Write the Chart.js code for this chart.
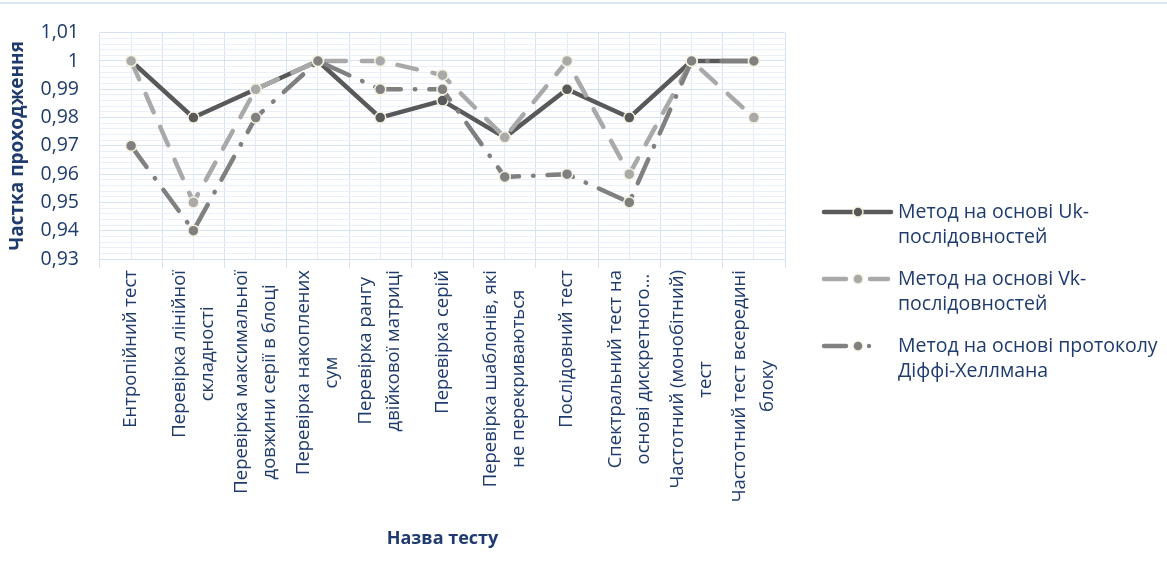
<!DOCTYPE html>
<html>
<head>
<meta charset="utf-8">
<script src="https://cdn.jsdelivr.net/npm/chart.js@4.4.1/dist/chart.umd.min.js"></script>
<style>
  html, body { margin: 0; padding: 0; background: #fff; }
  #wrap { position: relative; width: 1167px; height: 572px; }
  #topline { position: absolute; left: 0; top: 2px; width: 1167px; height: 2px; background: #dbe6f4; }
</style>
</head>
<body>
<div id="wrap">
  <div id="topline"></div>
  <canvas id="chart" width="1167" height="572"></canvas>
</div>
<script>
const testNames = [
  'Ентропійний тест',
  ['Перевірка лінійної', 'складності'],
  ['Перевірка максимальної', 'довжини серії в блоці'],
  ['Перевірка накоплених', 'сум'],
  ['Перевірка рангу', 'двійкової матриці'],
  'Перевірка серій',
  ['Перевірка шаблонів, які', 'не перекриваються'],
  'Послідовний тест',
  ['Спектральний тест на', 'основі дискретного…'],
  ['Частотний (монобітний)', 'тест'],
  ['Частотний тест всередині', 'блоку']
];
const ukValues = [1, 0.98, 0.99, 1, 0.98, 0.986, 0.973, 0.99, 0.98, 1, 1];
const vkValues = [1, 0.95, 0.99, 1, 1, 0.995, 0.973, 1, 0.96, 1, 0.98];
const dhValues = [0.97, 0.94, 0.98, 1, 0.99, 0.99, 0.959, 0.96, 0.95, 1, 1];
const seriesNames = [
  ['Метод на основі Uk-', 'послідовностей'],
  ['Метод на основі Vk-', 'послідовностей'],
  ['Метод на основі протоколу', 'Діффі-Хеллмана']
];
const yMin = 0.93, yMax = 1.01, yMinorStep = 0.002;

const TEXT = '#1F3B6E';
const FONT = 'Open Sans';

function isMajor(v) { return Math.abs(v * 100 - Math.round(v * 100)) < 1e-6; }

function series(label, data, color, dash, order) {
  return {
    label, data, order,
    borderColor: color, backgroundColor: color,
    borderWidth: 4.5, borderDash: dash, borderCapStyle: 'round', borderJoinStyle: 'round',
    pointRadius: 5.5, pointHoverRadius: 5.5,
    pointBackgroundColor: color, pointBorderColor: '#F4F1DE', pointBorderWidth: 1.5,
    tension: 0, fill: false
  };
}

// category labels: vertical, lines of a label centred on each other (like Excel)
const xLabels = {
  id: 'xLabels',
  afterDraw(chart) {
    const ctx = chart.ctx, xs = chart.scales.x;
    ctx.save();
    ctx.font = '18.5px "' + FONT + '"';
    ctx.fillStyle = TEXT;
    ctx.textAlign = 'center';
    ctx.textBaseline = 'middle';
    chart.data.labels.forEach((lab, i) => {
      const lines = Array.isArray(lab) ? lab : [lab];
      const cx = xs.getPixelForTick(i);
      const w = Math.max(...lines.map(l => ctx.measureText(l).width));
      const cy = xs.top + 11 + w / 2;
      lines.forEach((line, k) => {
        ctx.save();
        ctx.translate(cx + (k - (lines.length - 1) / 2) * 28, cy);
        ctx.rotate(-Math.PI / 2);
        ctx.fillText(line, 0, 0);
        ctx.restore();
      });
    });
    ctx.restore();
  }
};

// legend drawn at the right side with wrapped labels
const sideLegend = {
  id: 'sideLegend',
  afterDraw(chart) {
    const ctx = chart.ctx;
    const x0 = 824, x1 = 891, mx = 858, tx = 898;
    const rows = [212, 279, 346];
    ctx.save();
    chart.data.datasets.forEach((ds, i) => {
      const y = rows[i];
      ctx.strokeStyle = ds.borderColor;
      ctx.lineWidth = 4.5;
      ctx.lineCap = 'round';
      ctx.setLineDash([]);
      const dash = ds.borderDash || [];
      ctx.beginPath();
      ctx.moveTo(x0, y); ctx.lineTo(dash.length ? mx - 12 : mx, y);
      if (!dash.length) { ctx.lineTo(x1, y); }
      else if (dash.length === 2) { ctx.moveTo(mx + 12, y); ctx.lineTo(x1 - 3, y); }
      ctx.stroke();
      if (dash.length === 4) {
        ctx.beginPath(); ctx.arc(mx + 11, y, 2.2, 0, Math.PI * 2);
        ctx.fillStyle = ds.borderColor; ctx.fill();
      }
      ctx.beginPath(); ctx.arc(mx, y, 5, 0, Math.PI * 2);
      ctx.fillStyle = ds.pointBackgroundColor; ctx.fill();
      ctx.lineWidth = 1.5; ctx.strokeStyle = ds.pointBorderColor; ctx.stroke();

      ctx.fillStyle = TEXT;
      ctx.font = '19.5px "' + FONT + '"';
      ctx.textBaseline = 'middle';
      ctx.textAlign = 'left';
      seriesNames[i].forEach((line, k) => ctx.fillText(line, tx, y + k * 25));
    });
    ctx.restore();
  }
};

new Chart(document.getElementById('chart'), {
  type: 'line',
  data: {
    labels: testNames,
    datasets: [
      series(seriesNames[0].join(''), ukValues, '#595959', [], 3),
      series(seriesNames[1].join(''), vkValues, '#A9A9A9', [20, 16], 2),
      series(seriesNames[2].join(''), dhValues, '#808080', [26, 14, 0.5, 14], 1)
    ]
  },
  options: {
    responsive: false,
    animation: false,
    layout: { padding: { top: 31, left: 6, right: 382, bottom: 22 } },
    plugins: { legend: { display: false }, tooltip: { enabled: false } },
    scales: {
      x: {
        offset: true,
        grid: { offset: true, color: '#D6E3F3', lineWidth: 1, tickLength: 9 },
        border: { display: false },
        ticks: { display: false },
        title: {
          display: true, text: 'Назва тесту', color: TEXT,
          font: { family: FONT, size: 18, weight: 'bold' }, padding: { top: 4, bottom: 0 }
        },
        afterFit(axis) { axis.height = 291; }
      },
      x2: {
        type: 'category', position: 'bottom', offset: true,
        grid: { offset: false, color: '#E1EAF6', drawTicks: false },
        border: { display: false },
        ticks: { display: false },
        afterFit(axis) { axis.height = 0; }
      },
      y: {
        min: yMin, max: yMax,
        grid: {
          drawTicks: false,
          color: c => isMajor(c.tick.value) ? '#D6E3F3' : '#EAF0F9'
        },
        border: { display: false },
        ticks: {
          stepSize: yMinorStep, autoSkip: false, padding: 21, color: TEXT,
          font: { family: FONT, size: 19.5 },
          callback: v => isMajor(v) ? String(Math.round(v * 100) / 100).replace('.', ',') : ''
        },
        title: {
          display: true, text: 'Частка проходження', color: TEXT,
          font: { family: FONT, size: 19, weight: 'bold' }, padding: { top: 0, bottom: 2 }
        },
        afterFit(axis) { axis.width = 94; }
      }
    }
  },
  plugins: [xLabels, sideLegend]
});
</script>
</body>
</html>
